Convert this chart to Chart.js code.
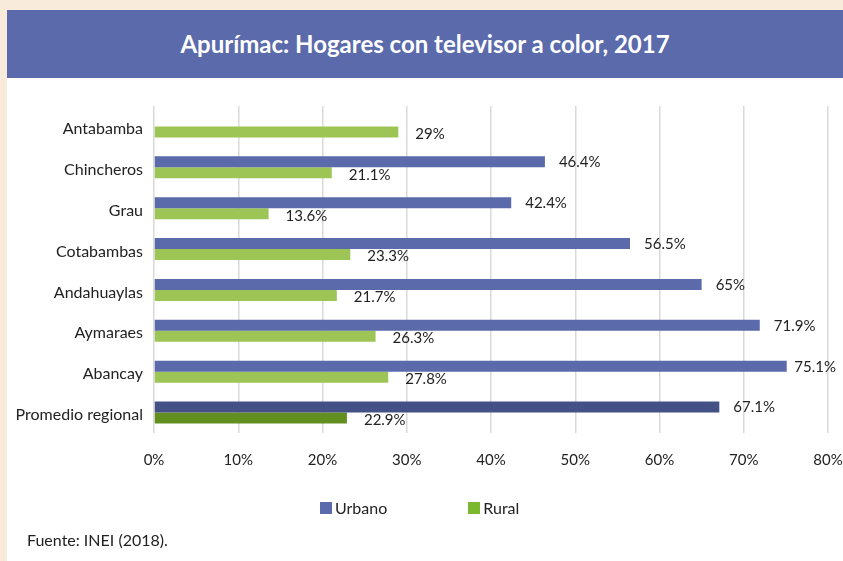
<!DOCTYPE html>
<html>
<head>
<meta charset="utf-8">
<script src="https://cdn.jsdelivr.net/npm/chart.js@4.4.0/dist/chart.umd.min.js"></script>
<style>
  body { margin: 0; width: 843px; height: 561px; background: #f9ebdc; position: relative; overflow: hidden; font-family: Lato, sans-serif; }
  #panel { position: absolute; left: 7px; top: 10px; width: 836px; height: 551px; background: #fff; }
  #title { position: absolute; left: 7px; top: 10px; width: 836px; height: 68px; background: #5a6aab; color: #fff;
           font-weight: bold; font-size: 24px; line-height: 68px; text-align: center; }
  #wrap { position: absolute; left: 0; top: 0; width: 843px; height: 561px; }
  #legend { position: absolute; top: 498px; left: 320px; font-size: 16px; color: #222; display: flex; }
  #legend span.item { display: flex; align-items: center; margin-right: 81px; }
  #legend i { display: inline-block; width: 12px; height: 12px; margin-right: 3px; }
  #source { position: absolute; left: 27px; top: 530px; font-size: 16px; color: #222; }
</style>
</head>
<body>
<div id="panel"></div>
<div id="title">Apurímac: Hogares con televisor a color, 2017</div>
<div id="wrap"><canvas id="myChart" width="843" height="561"></canvas></div>
<div id="legend"></div>
<div id="source">Fuente: INEI (2018).</div>
<script>
var categories = ['Antabamba', 'Chincheros', 'Grau', 'Cotabambas', 'Andahuaylas', 'Aymaraes', 'Abancay', 'Promedio regional'];
var urbano = [null, 46.4, 42.4, 56.5, 65, 71.9, 75.1, 67.1];
var rural = [29, 21.1, 13.6, 23.3, 21.7, 26.3, 27.8, 22.9];
var xTicks = [0, 10, 20, 30, 40, 50, 60, 70, 80];

var urbanoColor = '#5a6aab', urbanoAvg = '#435186';
var ruralColor = '#9dc556', ruralAvg = '#628f20';
var legendColors = ['#5a6aab', '#7cb82f'];

// last category (promedio) gets the darker shade
function shades(base, avg) {
    return categories.map(function(c, i) { return i === categories.length - 1 ? avg : base; });
}

var valueLabels = {
    id: 'valueLabels',
    afterDatasetsDraw: function(chart) {
        var ctx = chart.ctx;
        ctx.save();
        ctx.font = '15px Lato';
        ctx.fillStyle = '#222';
        ctx.textBaseline = 'middle';
        chart.data.datasets.forEach(function(ds, d) {
            chart.getDatasetMeta(d).data.forEach(function(bar, i) {
                var v = ds.data[i];
                if (v === null) return;
                var txt = v + '%';
                var w = ctx.measureText(txt).width;
                var x = Math.min(bar.x + (d === 0 ? 14 : 17), 836 - w);
                ctx.fillText(txt, x, bar.y + (d === 0 ? 0.5 : 2));
            });
        });
        ctx.restore();
    }
};

var ctx = document.getElementById('myChart').getContext('2d');
var myChart = new Chart(ctx, {
    type: 'bar',
    data: {
        labels: categories,
        datasets: [{
            label: 'Urbano',
            data: urbano,
            backgroundColor: shades(urbanoColor, urbanoAvg),
            categoryPercentage: 0.54,
            barPercentage: 1
        }, {
            label: 'Rural',
            data: rural,
            backgroundColor: shades(ruralColor, ruralAvg),
            categoryPercentage: 0.54,
            barPercentage: 1
        }]
    },
    options: {
        indexAxis: 'y',
        responsive: false,
        animation: false,
        layout: { padding: { top: 106, right: 15, bottom: 92, left: 0 } },
        plugins: {
            legend: { display: false },
            tooltip: { enabled: false }
        },
        scales: {
            x: {
                min: 0,
                max: 80,
                afterBuildTicks: function(scale) {
                    scale.ticks = xTicks.map(function(v) { return { value: v }; });
                },
                afterFit: function(scale) {
                    scale.height = 36;
                    scale.paddingLeft = 0;
                    scale.paddingRight = 0;
                },
                ticks: {
                    callback: function(v) { return v + '%'; },
                    font: { family: 'Lato', size: 15 },
                    color: '#222',
                    padding: 18,
                    maxRotation: 0
                },
                grid: { color: '#d9d9d9', lineWidth: 1.5, drawTicks: false },
                border: { display: false }
            },
            y: {
                afterFit: function(scale) { scale.width = 154; },
                ticks: {
                    font: { family: 'Lato', size: 16 },
                    color: '#222',
                    padding: 11,
                    labelOffset: 2.5
                },
                grid: { display: false, drawTicks: false },
                border: { display: false }
            }
        }
    },
    plugins: [valueLabels]
});

// html legend from the chart's datasets
var legend = document.getElementById('legend');
myChart.data.datasets.forEach(function(ds, i) {
    var item = document.createElement('span');
    item.className = 'item';
    item.innerHTML = '<i style="background:' + legendColors[i] + '"></i>' + ds.label;
    legend.appendChild(item);
});
</script>
</body>
</html>
